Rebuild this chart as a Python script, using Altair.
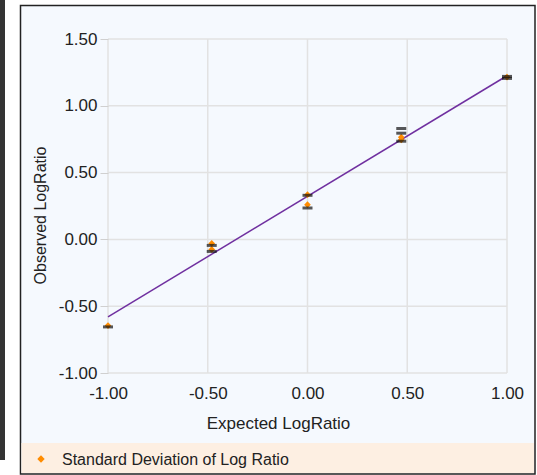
import altair as alt
import pandas as pd

# regression line endpoints
line_x = [-1.0, 1.0]
line_y = [-0.58, 1.225]

# orange markers (replicate values)
marker_x = [-1.0, -0.48, -0.48, 0.0, 0.0, 0.47, 0.47, 1.0]
marker_y = [-0.645, -0.03, -0.075, 0.335, 0.26, 0.765, 0.745, 1.215]

# black error-bar caps
cap_x = [-1.0, -0.48, -0.48, 0.0, 0.0, 0.47, 0.47, 0.47, 1.0, 1.0]
cap_y = [-0.655, -0.045, -0.09, 0.33, 0.235, 0.83, 0.795, 0.735, 1.22, 1.205]

x_ticks = [-1.0, -0.5, 0.0, 0.5, 1.0]
y_ticks = [-1.0, -0.5, 0.0, 0.5, 1.0, 1.5]
legend_label = ["Standard Deviation of Log Ratio"]

FONT = "Liberation Sans"
W, H = 399, 334
PL, PT = 108, 39

one = pd.DataFrame({"k": [0]})
line_df = pd.DataFrame({"x": line_x, "y": line_y})
mk_df = pd.DataFrame({"x": marker_x, "y": marker_y})
cap_df = pd.DataFrame({"x": cap_x, "y": cap_y})
leg_df = pd.DataFrame({"t": legend_label})
xt_df = pd.DataFrame({"x": x_ticks})
yt_df = pd.DataFrame({"y": y_ticks})

xs = alt.Scale(domain=[-1, 1], nice=False)
ys = alt.Scale(domain=[-1, 1.5], nice=False)

LBL = "replace(format(datum.value, '.2f'), '\u2212', '-')"

xaxis = alt.Axis(values=x_ticks, labelExpr=LBL, title="Expected LogRatio",
                 domain=False, ticks=False, grid=False, labelPadding=12, zindex=1,
                 labelFlush=False, labelOverlap=False,
                 labelFont=FONT, labelFontSize=17, labelColor="#222",
                 titleFont=FONT, titleFontSize=17, titleFontWeight="normal",
                 titleColor="#222", titleX=170, titleY=50, titleBaseline="middle")
yaxis = alt.Axis(values=y_ticks, labelExpr=LBL, title="Observed LogRatio",
                 domain=False, tickSize=8, tickColor="#D0D0D0", labelPadding=3,
                 grid=False, zindex=1, labelFlush=False, labelOverlap=False,
                 labelFont=FONT, labelFontSize=17, labelColor="#222",
                 titleFont=FONT, titleFontSize=16, titleFontWeight="normal",
                 titleColor="#222", titleX=-68, titleY=176, titleAngle=270,
                 titleBaseline="middle", titleAlign="center")

# background decorations in pixel coordinates
strip = alt.Chart(one).mark_rect(color="#333333", clip=False).encode(
    x=alt.value(0 - PL), x2=alt.value(5 - PL),
    y=alt.value(0 - PT), y2=alt.value(460 - PT))
panel = alt.Chart(one).mark_rect(fill="#F5F9FE", stroke="#222222", strokeWidth=1.5,
                                 clip=False).encode(
    x=alt.value(20.5 - PL), x2=alt.value(535 - PL),
    y=alt.value(5.5 - PT), y2=alt.value(474 - PT))
band = alt.Chart(one).mark_rect(fill="#FDEFE2", clip=False).encode(
    x=alt.value(21.5 - PL), x2=alt.value(534 - PL),
    y=alt.value(443 - PT), y2=alt.value(473 - PT))
leg_pt = alt.Chart(one).mark_point(shape="diamond", filled=True, color="#FF8C00",
                                   size=55, opacity=1, clip=False).encode(
    x=alt.value(41 - PL), y=alt.value(459 - PT))
leg_tx = alt.Chart(leg_df).mark_text(font=FONT, fontSize=16, color="#222",
                                     align="left", baseline="middle",
                                     clip=False).encode(
    x=alt.value(62 - PL), y=alt.value(460 - PT), text="t:N")

vgrid = alt.Chart(xt_df).mark_rule(color="#E2E2E2", strokeWidth=1.5).encode(
    x=alt.X("x:Q", scale=xs))
hgrid = alt.Chart(yt_df).mark_rule(color="#E2E2E2", strokeWidth=1.5).encode(
    y=alt.Y("y:Q", scale=ys))

base_axes = alt.Chart(line_df).mark_line(color="#7030A0", strokeWidth=1.5).encode(
    x=alt.X("x:Q", scale=xs, axis=xaxis),
    y=alt.Y("y:Q", scale=ys, axis=yaxis))

markers = alt.Chart(mk_df).mark_point(shape="diamond", filled=True, color="#FF8C00",
                                      size=45, opacity=1).encode(
    x=alt.X("x:Q", scale=xs), y=alt.Y("y:Q", scale=ys))
caps = alt.Chart(cap_df).mark_tick(orient="horizontal", color="#111111",
                                   size=10, thickness=3).encode(
    x=alt.X("x:Q", scale=xs), y=alt.Y("y:Q", scale=ys))

chart = alt.layer(strip, panel, band, leg_pt, leg_tx, vgrid, hgrid,
                  base_axes, markers, caps).properties(
    width=W, height=H,
    autosize=alt.AutoSizeParams(type="none"),
    padding={"left": PL, "top": PT, "right": 537 - PL - W, "bottom": 475 - PT - H},
    background="white",
).configure_view(stroke=None)

chart.save("out.html", embed_options={"renderer": "svg", "actions": False})
